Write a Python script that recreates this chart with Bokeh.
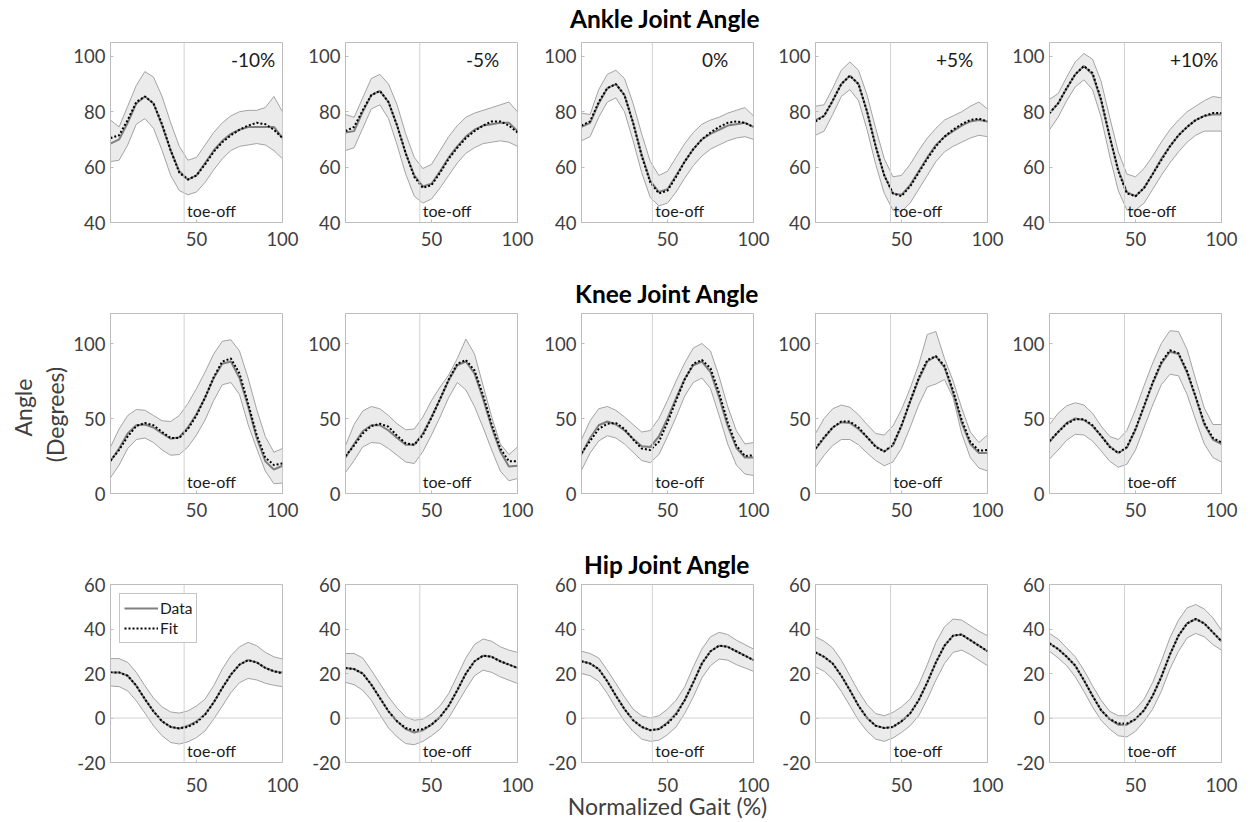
import math
from bokeh.plotting import figure
from bokeh.layouts import gridplot, column
from bokeh.models import Range1d, FixedTicker, Span, Legend, LegendItem, ColumnDataSource
from bokeh.core.properties import value
from bokeh.embed import file_html
from bokeh.resources import INLINE

# ---------------- data ----------------
GAIT = [0, 5, 10, 15, 20, 25, 30, 35, 40, 45, 50, 55, 60, 65, 70, 75, 80, 85, 90, 95, 100]
CONDITIONS = ["-10%", "-5%", "0%", "+5%", "+10%"]
TOE_OFF = [42.8, 43.2, 41.2, 43.6, 43.6]
JOINT_TITLES = ["Ankle Joint Angle", "Knee Joint Angle", "Hip Joint Angle"]
Y_LABEL_LINES = ["Angle", "(Degrees)"]
X_LABEL = "Normalized Gait (%)"
Y_RANGES = [(40, 105), (0, 120), (-20, 60)]
Y_TICKS = [[40, 60, 80, 100], [0, 50, 100], [-20, 0, 20, 40, 60]]
X_TICKS = [50, 100]

# Ankle
ankle_m10_data = [68.5, 70.0, 76.0, 83.0, 85.5, 83.0, 75.0, 66.0, 58.5, 55.5, 57.0, 61.5, 66.0, 69.5, 72.0, 73.5, 74.5, 74.5, 74.5, 74.5, 70.5]
ankle_m10_fit = [70.5, 71.5, 77.0, 83.5, 85.5, 83.0, 75.5, 66.0, 58.0, 55.5, 57.0, 61.0, 65.5, 69.0, 71.5, 73.5, 75.0, 76.0, 75.5, 73.5, 70.5]
ankle_m10_up = [77.0, 74.5, 82.0, 89.5, 94.5, 92.5, 85.5, 76.0, 67.5, 62.5, 63.5, 68.0, 72.5, 76.0, 78.5, 80.0, 80.5, 80.5, 81.5, 85.5, 80.0]
ankle_m10_lo = [62.0, 62.5, 68.0, 75.5, 77.5, 74.0, 66.0, 57.0, 51.5, 50.0, 51.0, 54.5, 59.0, 63.0, 66.0, 67.5, 68.0, 68.5, 68.0, 66.0, 63.0]

ankle_m5_data = [72.5, 73.0, 80.0, 86.0, 87.5, 83.5, 75.0, 65.0, 57.0, 53.0, 54.0, 58.5, 63.5, 67.5, 71.0, 73.5, 75.0, 75.5, 76.0, 76.0, 73.0]
ankle_m5_fit = [73.0, 74.5, 80.5, 86.0, 87.5, 83.5, 75.0, 65.0, 56.5, 52.5, 53.5, 58.0, 63.0, 67.0, 70.5, 73.0, 75.0, 76.5, 76.5, 75.0, 72.5]
ankle_m5_up = [79.0, 78.0, 85.0, 92.0, 93.5, 90.0, 82.5, 72.0, 63.5, 59.5, 61.0, 66.0, 71.0, 75.0, 78.0, 79.5, 80.5, 81.5, 82.5, 83.5, 80.0]
ankle_m5_lo = [66.0, 67.0, 74.0, 81.0, 82.5, 77.5, 68.0, 57.5, 49.5, 47.0, 48.5, 52.5, 57.0, 61.5, 65.0, 67.0, 68.5, 69.0, 69.5, 69.0, 67.5]

ankle_0_data = [74.5, 76.0, 83.0, 88.5, 90.0, 86.0, 76.0, 64.5, 55.0, 51.0, 52.0, 57.0, 62.0, 66.5, 70.0, 72.0, 73.5, 75.0, 75.5, 76.0, 74.5]
ankle_0_fit = [75.0, 76.5, 83.5, 88.5, 90.0, 86.0, 76.0, 64.0, 54.5, 50.5, 51.5, 56.5, 62.0, 66.5, 70.0, 72.5, 74.5, 76.0, 76.5, 76.0, 74.5]
ankle_0_up = [79.5, 79.0, 88.0, 93.5, 95.0, 92.0, 83.0, 72.0, 62.0, 57.0, 58.5, 63.5, 68.5, 72.5, 75.5, 77.0, 78.0, 79.5, 80.5, 81.5, 78.5]
ankle_0_lo = [69.5, 71.0, 78.0, 83.5, 85.0, 80.0, 69.5, 58.0, 49.0, 46.0, 47.0, 51.0, 56.0, 60.5, 64.0, 66.5, 68.0, 69.5, 70.5, 71.0, 70.0]

ankle_p5_data = [77.0, 78.5, 84.0, 90.0, 93.0, 90.0, 80.0, 67.5, 57.0, 50.5, 50.0, 53.5, 58.5, 63.5, 68.0, 71.0, 73.0, 75.0, 76.5, 77.0, 76.5]
ankle_p5_fit = [76.5, 78.5, 84.0, 90.0, 93.0, 90.0, 80.0, 67.5, 57.0, 50.5, 49.5, 53.0, 58.0, 63.0, 67.5, 71.0, 73.5, 75.5, 77.0, 77.5, 76.5]
ankle_p5_up = [82.0, 82.5, 88.5, 95.0, 98.0, 95.0, 86.0, 74.0, 63.0, 56.5, 57.0, 61.0, 66.0, 70.5, 74.0, 77.0, 78.5, 80.0, 82.0, 83.5, 81.0]
ankle_p5_lo = [71.5, 73.0, 79.0, 85.5, 88.0, 84.0, 73.5, 61.0, 50.5, 44.5, 44.0, 47.0, 52.0, 57.0, 62.0, 65.5, 67.5, 69.0, 70.5, 71.5, 71.0]

ankle_p10_data = [79.5, 83.0, 88.5, 93.5, 96.5, 93.5, 84.0, 71.0, 59.0, 51.0, 49.5, 52.5, 57.5, 63.0, 67.5, 71.5, 74.5, 77.0, 78.5, 79.0, 79.0]
ankle_p10_fit = [79.5, 83.0, 88.5, 93.5, 96.5, 94.0, 84.5, 71.0, 58.5, 50.5, 49.5, 52.5, 57.5, 62.5, 67.5, 71.5, 74.5, 77.0, 78.5, 79.5, 79.5]
ankle_p10_up = [84.5, 86.5, 92.5, 98.0, 101.0, 99.0, 91.0, 78.0, 65.5, 57.5, 56.5, 59.5, 64.0, 69.0, 73.5, 77.0, 80.0, 82.0, 84.0, 85.5, 85.0]
ankle_p10_lo = [73.5, 78.0, 84.0, 89.0, 91.5, 88.0, 78.0, 64.0, 51.5, 44.5, 44.5, 47.0, 52.0, 57.0, 61.5, 65.5, 69.0, 71.5, 73.0, 73.0, 73.0]

# Knee
knee_m10_data = [21.5, 30.0, 40.0, 45.5, 46.0, 44.0, 40.0, 36.5, 37.5, 44.0, 53.0, 64.0, 77.0, 86.5, 88.0, 77.0, 58.0, 37.0, 21.5, 16.0, 18.5]
knee_m10_fit = [22.0, 29.0, 38.0, 45.0, 47.0, 45.5, 41.0, 37.0, 37.0, 43.0, 52.0, 64.0, 77.5, 88.0, 90.0, 80.0, 60.0, 39.0, 24.0, 19.0, 20.0]
knee_m10_up = [31.0, 43.0, 52.0, 56.0, 55.5, 52.0, 48.5, 48.0, 52.0, 60.0, 70.0, 81.0, 93.0, 101.5, 102.5, 95.0, 77.0, 56.0, 38.0, 27.5, 30.0]
knee_m10_lo = [10.5, 19.0, 30.0, 36.0, 37.0, 34.0, 29.0, 25.5, 26.0, 31.0, 39.0, 49.0, 62.0, 72.5, 74.0, 66.0, 46.0, 30.0, 15.0, 6.5, 7.0]

knee_m5_data = [24.0, 33.0, 41.5, 45.5, 45.5, 42.0, 37.0, 32.5, 32.5, 40.0, 51.0, 63.0, 75.5, 85.5, 88.0, 80.0, 63.0, 44.0, 28.0, 18.0, 18.5]
knee_m5_fit = [25.0, 32.0, 40.0, 45.0, 46.5, 44.5, 38.5, 33.5, 32.5, 39.0, 50.5, 63.0, 76.0, 86.5, 89.0, 82.0, 65.5, 46.0, 30.0, 21.5, 21.5]
knee_m5_up = [32.0, 46.0, 55.0, 58.0, 56.5, 52.0, 46.5, 42.5, 43.0, 51.0, 62.0, 71.0, 79.0, 90.0, 103.0, 93.0, 72.0, 51.0, 33.0, 26.0, 31.0]
knee_m5_lo = [14.0, 22.0, 31.0, 34.0, 33.5, 30.0, 25.5, 21.0, 20.0, 28.0, 39.0, 51.0, 64.0, 74.0, 69.0, 58.0, 44.0, 29.0, 15.0, 8.5, 10.0]

knee_0_data = [26.0, 37.0, 45.5, 48.0, 46.0, 42.0, 36.5, 31.5, 31.0, 38.0, 50.0, 63.5, 76.5, 85.5, 88.0, 81.0, 64.0, 45.0, 30.5, 24.0, 24.0]
knee_0_fit = [27.0, 35.0, 43.0, 46.5, 47.0, 43.0, 36.0, 30.0, 29.0, 34.5, 47.5, 62.0, 76.0, 86.5, 89.0, 83.5, 67.0, 47.5, 32.0, 25.0, 25.5]
knee_0_up = [36.0, 48.5, 56.5, 58.0, 55.5, 51.0, 46.0, 41.0, 42.0, 50.0, 62.0, 75.0, 87.0, 97.0, 100.0, 95.0, 78.0, 58.0, 42.0, 33.0, 34.0]
knee_0_lo = [15.5, 27.0, 35.0, 38.5, 37.0, 33.0, 27.5, 22.0, 20.5, 26.0, 38.0, 51.0, 65.0, 74.0, 77.0, 70.0, 52.0, 33.0, 19.0, 13.0, 12.0]

knee_p5_data = [29.5, 37.0, 44.0, 47.5, 47.0, 43.0, 37.5, 31.5, 28.0, 32.0, 45.0, 61.0, 76.0, 88.0, 91.5, 84.0, 67.0, 47.0, 33.0, 27.0, 27.0]
knee_p5_fit = [30.0, 37.5, 44.0, 48.0, 48.0, 44.0, 37.5, 31.0, 28.0, 32.5, 45.5, 61.5, 77.0, 89.0, 91.5, 85.0, 68.5, 49.0, 34.5, 28.5, 29.0]
knee_p5_up = [40.0, 50.0, 56.5, 59.0, 57.5, 52.5, 46.0, 40.0, 39.0, 45.0, 56.0, 70.0, 86.0, 106.0, 108.0, 90.0, 75.0, 57.0, 41.0, 34.0, 39.0]
knee_p5_lo = [17.5, 25.5, 32.0, 36.0, 36.0, 32.5, 27.0, 22.0, 18.5, 21.0, 30.0, 44.0, 59.0, 71.0, 73.0, 76.0, 64.0, 40.0, 24.0, 17.0, 15.0]

knee_p10_data = [34.5, 41.0, 47.0, 50.0, 49.0, 45.0, 38.5, 31.5, 27.0, 30.5, 42.5, 58.0, 73.5, 86.5, 94.5, 93.0, 80.5, 64.0, 46.0, 36.0, 33.0]
knee_p10_fit = [35.0, 41.0, 46.5, 49.5, 49.5, 45.5, 38.5, 31.0, 27.0, 31.0, 43.0, 58.5, 74.0, 87.5, 95.5, 93.5, 81.5, 64.5, 47.0, 37.0, 34.0]
knee_p10_up = [46.0, 53.5, 58.5, 60.5, 59.0, 53.5, 45.0, 38.0, 36.0, 42.0, 56.0, 72.0, 87.0, 100.0, 108.5, 108.0, 96.0, 76.0, 57.0, 46.0, 46.0]
knee_p10_lo = [23.0, 29.0, 35.5, 39.5, 39.0, 35.0, 28.5, 21.5, 17.5, 19.5, 29.0, 44.0, 59.0, 72.5, 79.5, 78.5, 66.0, 49.0, 33.0, 24.0, 21.0]

# Hip
hip_m10_data = [20.5, 20.5, 19.0, 14.5, 8.5, 3.0, -1.5, -4.0, -4.7, -3.5, -1.5, 1.7, 7.0, 13.5, 19.5, 24.0, 26.0, 25.0, 22.5, 21.0, 20.5]
hip_m10_fit = [20.5, 20.5, 19.0, 14.5, 8.5, 3.0, -1.5, -4.0, -4.7, -4.0, -2.0, 1.5, 7.0, 13.5, 19.5, 24.0, 26.0, 25.0, 22.5, 21.0, 20.0]
hip_m10_up = [26.7, 26.7, 25.0, 20.5, 14.5, 9.0, 5.0, 2.7, 2.2, 3.2, 5.4, 8.5, 14.5, 22.0, 28.0, 32.0, 34.0, 32.5, 29.5, 27.5, 26.5]
hip_m10_lo = [14.4, 14.1, 12.2, 7.7, 2.2, -3.5, -8.0, -11.0, -11.7, -10.7, -8.8, -5.8, -0.5, 5.4, 11.4, 15.9, 17.8, 17.1, 15.6, 14.7, 14.1]

hip_m5_data = [22.5, 22.0, 20.0, 15.0, 9.0, 3.0, -1.5, -5.0, -6.5, -5.5, -3.0, 0.5, 5.5, 12.5, 20.0, 25.5, 28.0, 27.5, 25.5, 24.0, 22.5]
hip_m5_fit = [22.5, 22.0, 20.0, 15.0, 9.0, 3.0, -1.5, -4.5, -5.5, -5.0, -3.0, 0.5, 5.5, 12.5, 20.0, 25.5, 28.0, 27.5, 25.5, 24.0, 22.5]
hip_m5_up = [29.0, 29.0, 27.0, 21.5, 15.5, 9.5, 4.5, 0.5, -1.0, -0.5, 2.0, 5.5, 11.0, 19.0, 27.0, 33.0, 35.5, 34.5, 32.0, 30.5, 29.5]
hip_m5_lo = [16.0, 15.0, 12.5, 8.0, 1.5, -4.5, -8.5, -11.5, -12.0, -10.5, -8.0, -5.0, 0.0, 6.5, 13.0, 19.0, 21.5, 20.5, 18.5, 17.0, 15.5]

hip_0_data = [25.5, 24.5, 22.0, 16.5, 10.0, 4.0, -1.0, -4.0, -5.5, -5.0, -2.0, 2.0, 8.0, 16.0, 24.5, 30.0, 32.5, 32.0, 30.0, 28.0, 26.0]
hip_0_fit = [25.5, 24.5, 22.0, 16.5, 10.0, 4.0, -1.0, -4.0, -5.5, -5.0, -2.5, 1.5, 8.0, 16.0, 24.5, 30.0, 32.5, 32.0, 30.0, 28.0, 26.0]
hip_0_up = [30.0, 29.0, 27.0, 21.5, 15.5, 9.5, 4.0, 1.0, 0.0, 1.0, 4.0, 8.0, 14.0, 23.0, 31.0, 36.5, 38.5, 37.5, 35.0, 33.0, 31.0]
hip_0_lo = [20.0, 19.0, 16.5, 11.0, 4.5, -1.5, -6.0, -9.5, -10.5, -10.0, -7.5, -4.0, 2.0, 9.5, 18.0, 23.5, 26.5, 26.0, 24.0, 22.5, 21.0]

hip_p5_data = [29.5, 27.5, 24.5, 19.0, 12.5, 5.5, 0.0, -3.5, -4.5, -4.0, -1.5, 2.0, 8.0, 16.0, 25.0, 32.5, 37.0, 37.5, 35.0, 32.5, 30.0]
hip_p5_fit = [29.5, 27.5, 24.5, 19.0, 12.5, 5.5, 0.0, -3.5, -4.5, -4.0, -1.5, 2.0, 8.0, 16.0, 25.0, 32.5, 37.0, 37.5, 35.0, 32.5, 30.0]
hip_p5_up = [36.5, 34.5, 31.5, 26.0, 19.0, 12.0, 6.0, 2.0, 1.0, 2.5, 5.0, 8.5, 15.0, 24.0, 34.0, 41.0, 44.5, 44.0, 41.5, 39.0, 37.0]
hip_p5_lo = [23.0, 21.0, 17.5, 12.0, 5.5, -1.0, -6.0, -9.5, -10.5, -9.0, -6.5, -3.5, 1.0, 8.5, 17.0, 24.5, 29.5, 30.5, 28.5, 26.0, 23.5]

hip_p10_data = [33.5, 31.0, 27.5, 23.5, 17.0, 10.0, 3.5, -0.5, -3.0, -3.0, -0.5, 3.5, 10.0, 18.5, 28.5, 37.0, 42.5, 44.5, 42.5, 38.5, 34.5]
hip_p10_fit = [33.5, 31.0, 27.5, 23.5, 17.0, 10.0, 3.5, -0.5, -2.5, -2.5, -0.5, 3.5, 10.0, 18.5, 28.5, 37.0, 42.5, 44.5, 42.5, 38.5, 34.5]
hip_p10_up = [38.0, 35.5, 31.5, 27.5, 21.5, 14.5, 8.0, 3.0, 1.0, 1.0, 4.0, 8.5, 16.0, 25.5, 36.0, 44.0, 49.5, 51.0, 49.0, 45.0, 39.5]
hip_p10_lo = [30.0, 27.0, 23.5, 18.5, 12.0, 5.0, -1.0, -5.0, -8.0, -8.5, -6.0, -1.5, 4.0, 12.0, 22.0, 30.0, 36.0, 38.0, 36.5, 33.0, 30.5]

PANELS = [
    [(ankle_m10_data, ankle_m10_fit, ankle_m10_up, ankle_m10_lo),
     (ankle_m5_data, ankle_m5_fit, ankle_m5_up, ankle_m5_lo),
     (ankle_0_data, ankle_0_fit, ankle_0_up, ankle_0_lo),
     (ankle_p5_data, ankle_p5_fit, ankle_p5_up, ankle_p5_lo),
     (ankle_p10_data, ankle_p10_fit, ankle_p10_up, ankle_p10_lo)],
    [(knee_m10_data, knee_m10_fit, knee_m10_up, knee_m10_lo),
     (knee_m5_data, knee_m5_fit, knee_m5_up, knee_m5_lo),
     (knee_0_data, knee_0_fit, knee_0_up, knee_0_lo),
     (knee_p5_data, knee_p5_fit, knee_p5_up, knee_p5_lo),
     (knee_p10_data, knee_p10_fit, knee_p10_up, knee_p10_lo)],
    [(hip_m10_data, hip_m10_fit, hip_m10_up, hip_m10_lo),
     (hip_m5_data, hip_m5_fit, hip_m5_up, hip_m5_lo),
     (hip_0_data, hip_0_fit, hip_0_up, hip_0_lo),
     (hip_p5_data, hip_p5_fit, hip_p5_up, hip_p5_lo),
     (hip_p10_data, hip_p10_fit, hip_p10_up, hip_p10_lo)],
]

# ---------------- layout / style ----------------
FONT = "Lato"
TXT = "#404040"
BOX = "#bdbdbd"

PAGE_W = 1250
TOP_H = 34
LABEL_W = 70
COL_W = [230, 236, 234, 234, 246]
BORDER_L = [40, 45, 45, 45, 45]
BORDER_R = [18, 19, 17, 17, 29]
ROW_H = [234, 271, 283]
BORDER_T = [8, 45, 45]
BORDER_B = [46, 46, 58]
X_STANDOFF = [9, 9, 15]
TITLE_STANDOFF = [12, 11, 11]


def blank_fig(width, height, **borders):
    f = figure(width=width, height=height,
               x_range=Range1d(0, width), y_range=Range1d(0, height - borders.get("min_border_top", 0) - borders.get("min_border_bottom", 0)),
               output_backend="svg", toolbar_location=None, tools="",
               min_border_left=0, min_border_right=0,
               min_border_top=borders.get("min_border_top", 0),
               min_border_bottom=borders.get("min_border_bottom", 0))
    f.axis.visible = False
    f.xgrid.visible = False
    f.ygrid.visible = False
    f.outline_line_color = None
    f.background_fill_color = "white"
    f.border_fill_color = "white"
    return f


# top strip carrying the first joint title
top = blank_fig(PAGE_W, TOP_H)
top.text(x=[665], y=[TOP_H - 18], text=[JOINT_TITLES[0]],
         text_align="center", text_baseline="middle",
         text_font=value(FONT), text_font_size="24.5px", text_font_style="bold",
         text_color="black")

grid = []
for r in range(3):
    row = []
    ylo, yhi = Y_RANGES[r]

    # left column: holds the shared y-axis label on the middle row only
    if r == 1:
        lab = blank_fig(LABEL_W, ROW_H[r], min_border_top=BORDER_T[r],
                        min_border_bottom=BORDER_B[r])
        lab.text(x=[22.5, 54], y=[86, 79], text=Y_LABEL_LINES, angle=math.pi / 2,
                 text_align="center", text_baseline="middle",
                 text_font=value(FONT), text_font_size="23px", text_color=TXT)
        row.append(lab)
    else:
        row.append(None)

    for c in range(5):
        data, fit, up, lo = PANELS[r][c]
        src = ColumnDataSource(dict(x=GAIT, data=data, fit=fit, up=up, lo=lo))
        p = figure(width=COL_W[c], height=ROW_H[r],
                   x_range=Range1d(0, 100), y_range=Range1d(ylo, yhi),
                   output_backend="svg", toolbar_location=None, tools="",
                   min_border_left=BORDER_L[c], min_border_right=BORDER_R[c],
                   min_border_top=BORDER_T[r], min_border_bottom=BORDER_B[r])
        p.outline_line_color = BOX
        p.outline_line_width = 1
        p.background_fill_color = "white"
        p.border_fill_color = "white"
        p.xgrid.visible = False
        p.ygrid.visible = False

        p.xaxis.ticker = FixedTicker(ticks=X_TICKS)
        p.yaxis.ticker = FixedTicker(ticks=Y_TICKS[r])
        p.yaxis.major_label_overrides = {t: str(t) for t in Y_TICKS[r]}
        for ax in (p.xaxis[0], p.yaxis[0]):
            ax.axis_line_color = BOX
            ax.major_tick_line_color = BOX
            ax.major_tick_in = 3
            ax.major_tick_out = 0
            ax.minor_tick_line_color = None
            ax.major_label_text_font = FONT
            ax.major_label_text_font_size = "18.5px"
            ax.major_label_text_color = TXT
        p.yaxis.major_label_standoff = 5
        p.xaxis.major_label_standoff = X_STANDOFF[r]

        # std band
        p.varea(x="x", y1="lo", y2="up", source=src, fill_color="#ebebeb")
        p.line(x="x", y="up", source=src, line_color="#a3a3a3", line_width=1)
        p.line(x="x", y="lo", source=src, line_color="#a3a3a3", line_width=1)

        # reference lines
        p.add_layout(Span(location=TOE_OFF[c], dimension="height",
                          line_color="#d2d2d2", line_width=1))
        if r == 2:
            p.add_layout(Span(location=0, dimension="width",
                              line_color="#d2d2d2", line_width=1))

        r_data = p.line(x="x", y="data", source=src, line_color="#808080", line_width=2)
        r_fit = p.line(x="x", y="fit", source=src, line_color="black",
                       line_width=2, line_dash="2 2")

        p.text(x=[TOE_OFF[c]], y=[ylo], text=["toe-off"], x_offset=3, y_offset=-3,
               text_baseline="bottom", text_align="left",
               text_font=value(FONT), text_font_size="16px", text_color="#1a1a1a")

        if r == 0:
            p.text(x=[70], y=[yhi], text=[CONDITIONS[c]], y_offset=17,
                   text_baseline="middle", text_align="left",
                   text_font=value(FONT), text_font_size="19px", text_color="#1a1a1a")

        if c == 2 and r > 0:
            p.title.text = JOINT_TITLES[r]
            p.title.align = "center"
            p.title.text_font = FONT
            p.title.text_font_size = "24.5px"
            p.title.text_font_style = "bold"
            p.title.text_color = "black"
            p.title.standoff = TITLE_STANDOFF[r]

        if r == 2 and c == 2:
            p.xaxis.axis_label = X_LABEL
            p.xaxis.axis_label_text_font = FONT
            p.xaxis.axis_label_text_font_size = "23px"
            p.xaxis.axis_label_text_font_style = "normal"
            p.xaxis.axis_label_text_color = TXT
            p.xaxis.axis_label_standoff = -3

        if r == 2 and c == 0:
            legend = Legend(items=[LegendItem(label="Data", renderers=[r_data]),
                                   LegendItem(label="Fit", renderers=[r_fit])],
                            location="top_left")
            legend.margin = 9
            legend.padding = 4
            legend.spacing = 0
            legend.glyph_width = 34
            legend.glyph_height = 20
            legend.label_height = 20
            legend.label_standoff = 2
            legend.label_text_font = FONT
            legend.label_text_font_size = "15.5px"
            legend.label_text_color = "#1a1a1a"
            legend.border_line_color = "#8c8c8c"
            legend.border_line_width = 1
            legend.background_fill_color = "white"
            legend.background_fill_alpha = 1
            p.add_layout(legend)
        row.append(p)
    grid.append(row)

layout = column(top, gridplot(grid, toolbar_location=None))
open("out.html", "w").write(file_html(layout, INLINE))
